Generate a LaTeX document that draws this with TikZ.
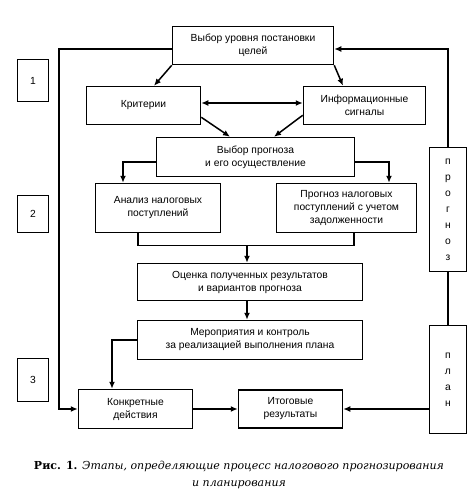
\documentclass[tikz,border=0pt]{standalone}
\usepackage{fontspec}
\setmainfont{Liberation Sans}
\newfontfamily\capfont{DejaVu Serif}
\usetikzlibrary{arrows.meta}

\begin{document}
\begin{tikzpicture}[x=1pt, y=-1pt,
    box/.style={draw, line width=1.5pt, align=center, inner sep=0pt,
        font=\fontsize{10.3}{13}\selectfont},
    letters/.style={box, font=\fontsize{10.3}{16}\selectfont},
    line/.style={line width=1.5pt},
    arr/.style={line, -{Latex[length=7pt,width=6pt]}}]
    \useasboundingbox (0,0) rectangle (474,491);

    % Stage boxes
    \node[box, minimum width=31pt, minimum height=42pt] (one) at (33,80.5) {1};
    \node[box, minimum width=31pt, minimum height=37pt] (two) at (33,214) {2};
    \node[box, minimum width=31pt, minimum height=43pt] (three) at (33,380) {3};

    % Main blocks
    \node[box, minimum width=161pt, minimum height=38pt] (goal) at (253,45.5)
        {Выбор уровня постановки\\целей};
    \node[box, minimum width=114pt, minimum height=38pt] (crit) at (143.5,105.5)
        {Критерии};
    \node[box, minimum width=122pt, minimum height=38pt] (info) at (364.5,105.5)
        {Информационные\\сигналы};
    \node[box, minimum width=198pt, minimum height=39pt] (choice) at (255.5,157)
        {Выбор прогноза\\и его осуществление};
    \node[box, minimum width=125pt, minimum height=49pt] (anal) at (158,208)
        {Анализ налоговых\\поступлений};
    \node[box, minimum width=140pt, minimum height=49pt] (prog) at (346.5,208)
        {Прогноз налоговых\\поступлений с учетом\\задолженности};
    \node[box, minimum width=225pt, minimum height=37pt] (eval) at (250,282)
        {Оценка полученных результатов\\и вариантов прогноза};
    \node[box, minimum width=225pt, minimum height=39pt] (meas) at (250,340)
        {Мероприятия и контроль\\за реализацией выполнения плана};
    \node[box, minimum width=114pt, minimum height=39pt] (concr) at (135.5,409)
        {Конкретные\\действия};
    \node[box, minimum width=104pt, minimum height=38pt] (result) at (290.5,409)
        {Итоговые\\результаты};

    % Vertical boxes
    \node[letters, minimum width=37pt, minimum height=124pt] (progn) at (448,209.5)
        {п\\р\\о\\г\\н\\о\\з};
    \node[letters, minimum width=37pt, minimum height=108pt] (plan) at (448,379.5)
        {п\\л\\а\\н};

    % Arrows at the top
    \draw[arr] (goal.south west) -- ([xshift=10.5pt]crit.north);
    \draw[arr] (goal.south east) -- ([xshift=-21.5pt]info.north);
    \draw[line, {Latex[length=7pt,width=6pt]}-{Latex[length=7pt,width=6pt]}]
        ([yshift=2.5pt]crit.east) -- ([yshift=2.5pt]info.west);
    \draw[arr] ([yshift=8pt]crit.south east) -- ([xshift=-25.5pt]choice.north);
    \draw[arr] ([yshift=10pt]info.south west) -- ([xshift=18.5pt]choice.north);
    \draw[arr] ([yshift=-5pt]choice.west) -| ([xshift=-35pt]anal.north);
    \draw[arr] ([yshift=-5pt]choice.east) -| ([xshift=42.5pt]prog.north);

    % Join below the analysis
    \draw[line] ([xshift=-20pt]anal.south) -- ++(0,12) -| ([xshift=7.5pt]prog.south);
    \coordinate (join) at (247,245);
    \draw[arr] (join) -- (join |- eval.north);
    \draw[arr] ([xshift=-3pt]eval.south) -- ([xshift=-3pt]meas.north);
    \draw[arr] (meas.west) -| ([xshift=-23.5pt]concr.north);

    % Loops
    \coordinate (ltop) at (59,49);
    \coordinate (lbot) at (59,409);
    \draw[arr] ([yshift=-3.5pt]goal.west) -- (ltop) -- (lbot) -- (concr.west);
    \draw[arr] (concr.east) -- (result.west);
    \draw[arr] (progn.north) |- ([yshift=-3.5pt]goal.east);
    \draw[line] (progn.south) -- (plan.north);
    \draw[arr] ([yshift=-29.5pt]plan.west) -- (result.east);

    % Caption
    \node[font=\capfont\fontsize{11}{17}\selectfont, align=center] (caption) at (239,474.5)
        {\textbf{Рис. 1.} \textit{Этапы, определяющие процесс налогового прогнозирования}\\
        \textit{и планирования}};
\end{tikzpicture}
\end{document}
